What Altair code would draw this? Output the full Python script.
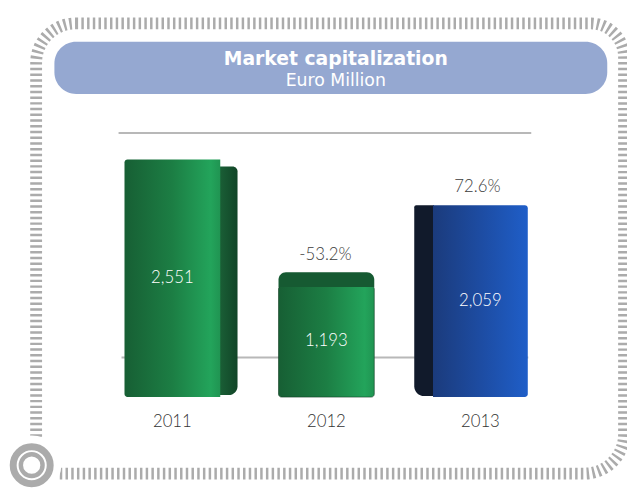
import altair as alt
import pandas as pd

# ---- data ----
years = ["2011", "2012", "2013"]
values = [2551, 1193, 2059]
value_labels = ["2,551", "1,193", "2,059"]
change_labels = ["", "-53.2%", "72.6%"]
series = ["green", "green", "blue"]

title_line1 = "Market capitalization"
title_line2 = "Euro Million"

df = pd.DataFrame({
    "year": years,
    "value": values,
    "label": value_labels,
    "change": change_labels,
    "series": series,
})
one = pd.DataFrame({"k": [0]})

W, H = 627, 481
FONT = "Lato"
TFONT = "DejaVu Sans"
GRAY = "#ababab"

x_enc = alt.X("year:N",
              scale=alt.Scale(domain=years, range=[88.5, 556.5],
                              paddingInner=0.38, paddingOuter=0.19),
              axis=None)
y_scale = alt.Scale(domain=[0, 3000], range=[391, 108])
y_enc = alt.Y("value:Q", scale=y_scale, axis=None)


def grad(stops):
    return alt.LinearGradient(
        gradient="linear", x1=0, x2=1, y1=0, y2=0,
        stops=[alt.GradientStop(offset=o, color=c) for o, c in stops])


green_front = grad([(0, "#175f34"), (0.5, "#1c7e44"), (0.9, "#23a45b"), (1, "#209452")])
blue_front = grad([(0, "#1b3b7c"), (0.5, "#1d4ca2"), (1, "#1f5ec8")])
green_side = grad([(0, "#1a5f36"), (1, "#114527")])

base = alt.Chart(df)

# ---- decorations ----
frame = alt.Chart(one).mark_rect(
    fillOpacity=0, stroke=GRAY, strokeWidth=12, strokeDash=[2.5, 3.3],
    cornerRadiusTopLeft=40, cornerRadiusTopRight=34,
    cornerRadiusBottomRight=40, cornerRadiusBottomLeft=0,
).encode(x=alt.value(28.5), x2=alt.value(624), y=alt.value(12.5), y2=alt.value(468.5))

ring_bg = alt.Chart(one).mark_point(
    shape="circle", filled=True, color="white", opacity=1, size=3600,
).encode(x=alt.value(24), y=alt.value(460))
ring_outer = alt.Chart(one).mark_point(
    shape="circle", filled=False, color=GRAY, opacity=1, size=1406, strokeWidth=7,
).encode(x=alt.value(24), y=alt.value(460))
ring_inner = alt.Chart(one).mark_point(
    shape="circle", filled=False, color=GRAY, opacity=1, size=484, strokeWidth=4.5,
).encode(x=alt.value(24), y=alt.value(460))

title_box = alt.Chart(one).mark_rect(
    fill="#95a8d1", cornerRadius=22,
).encode(x=alt.value(47), x2=alt.value(607), y=alt.value(31), y2=alt.value(84))

title1 = alt.Chart(one).mark_text(
    text=title_line1, font=TFONT, fontSize=19, fontWeight="bold", color="white",
    align="center", baseline="alphabetic",
).encode(x=alt.value(332), y=alt.value(55))
title2 = alt.Chart(one).mark_text(
    text=title_line2, font=TFONT, fontSize=17.5, color="white",
    align="center", baseline="alphabetic",
).encode(x=alt.value(332), y=alt.value(76))

rule_top = alt.Chart(one).mark_rule(color="#b8b8b8", strokeWidth=2).encode(
    x=alt.value(112), x2=alt.value(530), y=alt.value(123.5))
rule_mid = alt.Chart(one).mark_rule(color="#b8b8b8", strokeWidth=2).encode(
    x=alt.value(115), x2=alt.value(527), y=alt.value(351))

# ---- bars ----
front_2011 = base.transform_filter(alt.datum.year == "2011").mark_bar(
    width=97, cornerRadiusTopLeft=3, cornerRadiusBottomLeft=3, color=green_front,
).encode(x=x_enc, y=y_enc, y2=alt.datum(0))
front_2012 = base.transform_filter(alt.datum.year == "2012").mark_bar(
    width=97, cornerRadius=3, color=green_front, stroke="#0f3a20", strokeWidth=0.6,
).encode(x=x_enc, y=y_enc, y2=alt.datum(0))
front_2013 = base.transform_filter(alt.datum.year == "2013").mark_bar(
    width=96, cornerRadiusTopRight=3, cornerRadiusBottomRight=3, color=blue_front,
).encode(x=x_enc, y=y_enc, y2=alt.datum(0))

side_2011 = base.transform_filter(alt.datum.year == "2011").mark_bar(
    width=18, xOffset=57, yOffset=7, y2Offset=-2, color=green_side,
    cornerRadiusTopRight=5, cornerRadiusBottomRight=18,
).encode(x=x_enc, y=y_enc, y2=alt.datum(0))
side_2013 = base.transform_filter(alt.datum.year == "2013").mark_bar(
    width=20, xOffset=-57, y2Offset=-1, color="#111a2b",
    cornerRadiusTopLeft=2, cornerRadiusBottomLeft=18,
).encode(x=x_enc, y=y_enc, y2=alt.datum(0))
top_2012 = base.transform_filter(alt.datum.year == "2012").mark_bar(
    width=97, yOffset=-14, y2Offset=1, color="#165a32",
    cornerRadiusTopLeft=9, cornerRadiusTopRight=9,
).encode(x=x_enc, y=y_enc, y2=alt.Y2("value:Q"))

# ---- labels ----
inner_labels = base.transform_calculate(mid="datum.value / 2").mark_text(
    font=FONT, fontSize=17, fontWeight=300, color="white", baseline="middle",
).encode(x=x_enc, y=alt.Y("mid:Q", scale=y_scale, axis=None), text="label:N")

chg_2012 = base.transform_filter(alt.datum.year == "2012").mark_text(
    font=FONT, fontSize=17, fontWeight=300, color="#3c3c3c", baseline="middle",
    dy=-31, dx=-1,
).encode(x=x_enc, y=y_enc, text="change:N")
chg_2013 = base.transform_filter(alt.datum.year == "2013").mark_text(
    font=FONT, fontSize=17, fontWeight=300, color="#3c3c3c", baseline="middle",
    dy=-18, dx=-3,
).encode(x=x_enc, y=y_enc, text="change:N")

year_labels = base.mark_text(
    font=FONT, fontSize=17, fontWeight=300, color="#333333", baseline="middle",
).encode(x=x_enc, y=alt.value(416), text="year:N")

chart = alt.layer(
    frame, ring_bg, ring_outer, ring_inner, title_box, title1, title2,
    rule_top, rule_mid,
    side_2011, side_2013, front_2011, front_2012, front_2013, top_2012,
    inner_labels, chg_2012, chg_2013, year_labels,
).properties(
    width=W, height=H, padding=0, autosize=alt.AutoSizeParams(type="none"),
    background="white",
).configure_view(strokeWidth=0)

chart.save("out.html", embed_options={"renderer": "svg", "actions": False})
